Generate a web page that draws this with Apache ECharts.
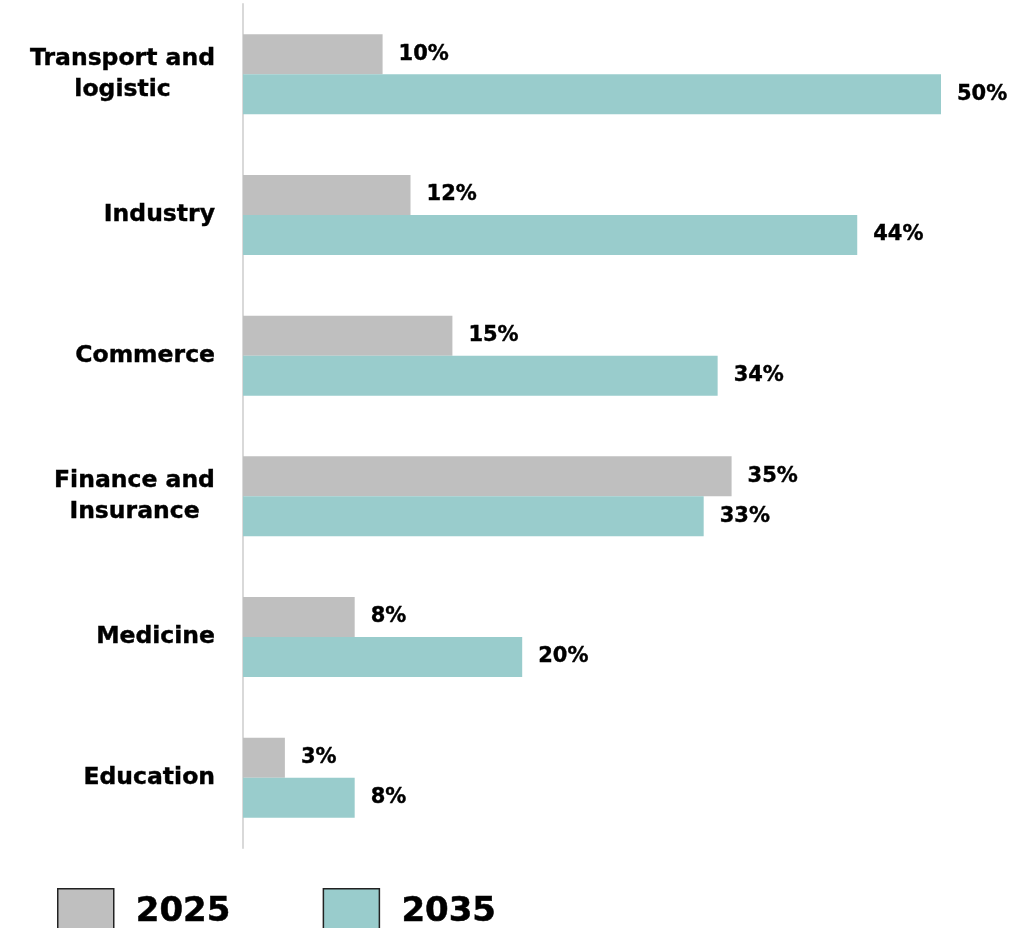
<!DOCTYPE html>
<html>
<head>
<meta charset="utf-8">
<script src="https://cdn.jsdelivr.net/npm/echarts@6/dist/echarts.min.js"></script>
<style>html,body{margin:0;padding:0;background:#fff}#c{width:1035px;height:928px}</style>
</head>
<body>
<div id="c"></div>
<script>
const categories = ['Transport and\nlogistic', 'Industry', 'Commerce', 'Finance and\nInsurance', 'Medicine', 'Education'];
const seriesNames = ['2025', '2035'];
const values2025 = [10, 12, 15, 35, 8, 3];
const values2035 = [50, 44, 34, 33, 20, 8];

const FONT = '"DejaVu Sans", Verdana, sans-serif';
const CAT_SIZE = 23.5;
const cv = document.createElement('canvas').getContext('2d');
cv.font = 'bold ' + CAT_SIZE + 'px ' + FONT;
function lineW(v) {
  return Math.ceil(Math.max.apply(null, v.split('\n').map(l => cv.measureText(l).width)));
}
function catFormatter(v) {
  const lines = v.split('\n');
  if (lines.length === 1) return '{c|' + v + '}';
  const key = 'm' + lineW(v);
  return lines.map(l => '{' + key + '|' + l + '}').join('\n');
}
const rich = { c: {} };
categories.forEach(v => {
  if (v.indexOf('\n') >= 0) {
    const w = lineW(v);
    rich['m' + w] = { width: w, align: 'center' };
  }
});
const chart = echarts.init(document.getElementById('c'));
const labelCfg = {
  show: true, position: 'right', distance: 16,
  formatter: p => p.value + '%',
  fontFamily: FONT, fontWeight: 'bold', fontSize: 21, color: '#000',
  textBorderColor: '#000', textBorderWidth: 0.4
};
chart.setOption({
  animation: false,
  grid: { left: 243, right: 94, top: 4, bottom: 80, containLabel: false },
  xAxis: { type: 'value', min: 0, max: 50, show: false },
  yAxis: {
    type: 'category', data: categories, inverse: true,
    axisLine: { show: true, lineStyle: { color: '#D9D9D9', width: 2 } },
    axisTick: { show: false },
    axisLabel: {
      margin: 28, fontFamily: FONT, fontWeight: 'bold', fontSize: CAT_SIZE,
      color: '#000', lineHeight: 31, align: 'right',
      textBorderColor: '#000', textBorderWidth: 0.4,
      formatter: catFormatter, rich: rich
    }
  },
  legend: {
    left: 52, top: 883, itemWidth: 56, itemHeight: 46, itemGap: 92,
    icon: 'rect',
    textStyle: { fontFamily: FONT, fontWeight: 'bold', fontSize: 34, color: '#000', padding: [0, 0, 0, 17],
      textBorderColor: '#000', textBorderWidth: 0.5 },
    data: [
      { name: seriesNames[0], itemStyle: { borderColor: '#222', borderWidth: 1.5 } },
      { name: seriesNames[1], itemStyle: { borderColor: '#222', borderWidth: 1.5 } }
    ]
  },
  series: [
    { name: seriesNames[0], type: 'bar', data: values2025, barWidth: 40, barGap: '0%',
      itemStyle: { color: '#BFBFBF' }, label: labelCfg },
    { name: seriesNames[1], type: 'bar', data: values2035, barWidth: 40, barGap: '0%',
      itemStyle: { color: '#99CCCC' }, label: labelCfg }
  ]
});
</script>
</body>
</html>
